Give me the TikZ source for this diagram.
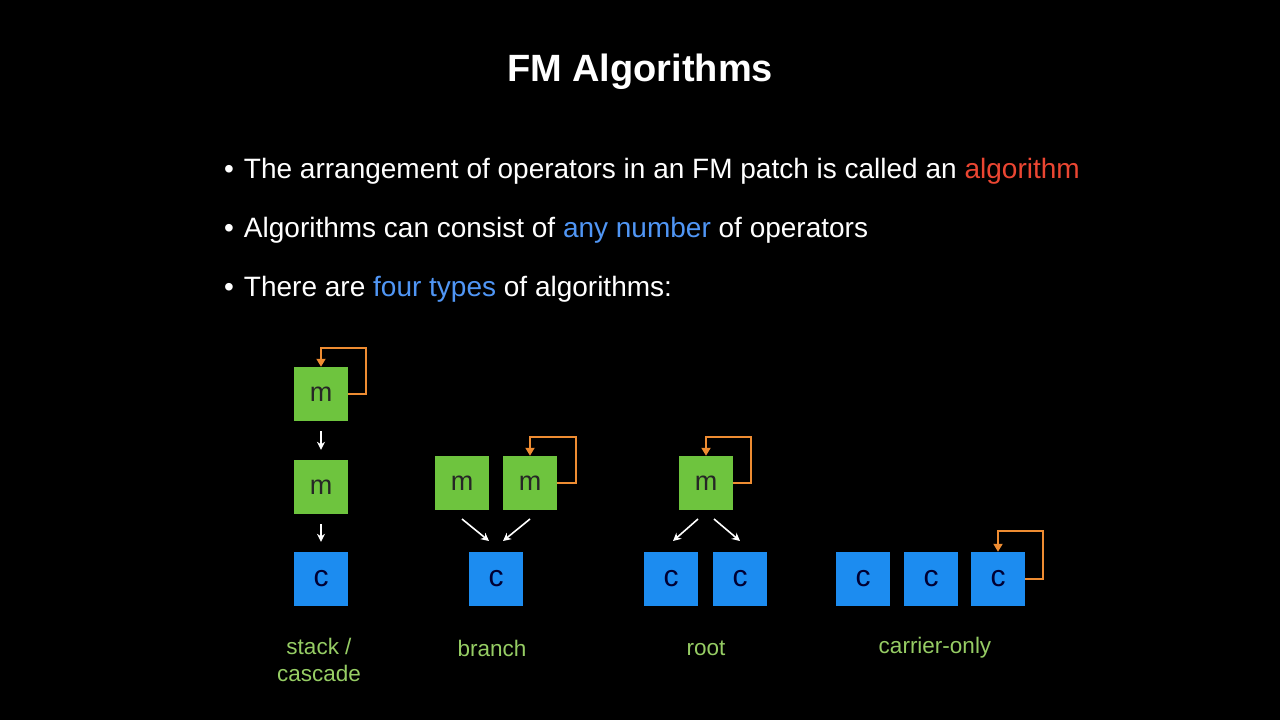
\documentclass[tikz,border=0pt]{standalone}
\usepackage{fontspec}
\setmainfont{Liberation Sans}
\usetikzlibrary{arrows.meta}
\definecolor{gbox}{RGB}{110,196,62}
\definecolor{bbox}{RGB}{28,140,240}
\definecolor{lab}{RGB}{150,205,100}
\definecolor{org}{RGB}{238,140,50}
\definecolor{red1}{RGB}{235,70,50}
\definecolor{blu1}{RGB}{80,150,245}
\begin{document}
\begin{tikzpicture}[x=1pt,y=-1pt,
 mb/.style={fill=gbox,minimum size=54pt,inner sep=0pt,font=\fontsize{27}{27}\selectfont,text=black!85},
 cb/.style={fill=bbox,minimum size=54pt,inner sep=0pt,font=\fontsize{30}{30}\selectfont,text=black!80!blue},
 wa/.style={white,line width=1.6pt,-{Stealth[length=8pt,width=8pt]}},
 fb/.style={org,line width=1.8pt,-{Triangle[length=8pt,width=9pt]}},
 lb/.style={text=lab,font=\fontsize{22.5}{27}\selectfont,align=center},
 bt/.style={text=white,anchor=west,inner sep=0pt,font=\fontsize{28}{32}\selectfont}]
\fill[black] (0,0) rectangle (1280,720);
\useasboundingbox (0,0) rectangle (1280,720);
\node[text=white,font=\bfseries\fontsize{38}{42}\selectfont] (title) at (640,72) {FM Algorithms};
\node[bt] (b1) at (224,171) {•\hspace{10pt}The arrangement of operators in an FM patch is called an \textcolor{red1}{algorithm}};
\node[bt] (b2) at (224,230) {•\hspace{10pt}Algorithms can consist of \textcolor{blu1}{any number} of operators};
\node[bt] (b3) at (224,289) {•\hspace{10pt}There are \textcolor{blu1}{four types} of algorithms:};
% stack
\node[mb] (s1) at (321,394) {m};
\node[mb] (s2) at (321,487) {m};
\node[cb] (s3) at (321,579) {c};
\draw[wa] ([yshift=-10pt]s1.south) -- ([yshift=10pt]s2.north);
\draw[wa] ([yshift=-10pt]s2.south) -- ([yshift=10pt]s3.north);
\draw[fb] (s1.east) -- ++(18,0) |- (321,348) -- (s1.north);
\node[lb] (l1) at (319,660) {stack /\\cascade};
% branch
\node[mb] (b1m) at (462,483) {m};
\node[mb] (b2m) at (530,483) {m};
\node[cb] (bc) at (496,579) {c};
\draw[wa] (462,519) -- (489,541);
\draw[wa] (530,519) -- (503,541);
\draw[fb] (b2m.east) -- ++(19,0) |- (530,437) -- (b2m.north);
\node[lb] (l2) at (492,648) {branch};
% root
\node[mb] (rm) at (706,483) {m};
\node[cb] (rc1) at (671,579) {c};
\node[cb] (rc2) at (740,579) {c};
\draw[wa] (698,519) -- (673,541);
\draw[wa] (714,519) -- (740,541);
\draw[fb] (rm.east) -- ++(18,0) |- (706,437) -- (rm.north);
\node[lb] (l3) at (706,648) {root};
% carrier
\node[cb] (c1) at (863,579) {c};
\node[cb] (c2) at (931,579) {c};
\node[cb] (c3) at (998,579) {c};
\draw[fb] (c3.east) -- ++(18,0) |- (998,531) -- (c3.north);
\node[lb] (l4) at (935,648) {carrier-only};
\end{tikzpicture}
\end{document}
